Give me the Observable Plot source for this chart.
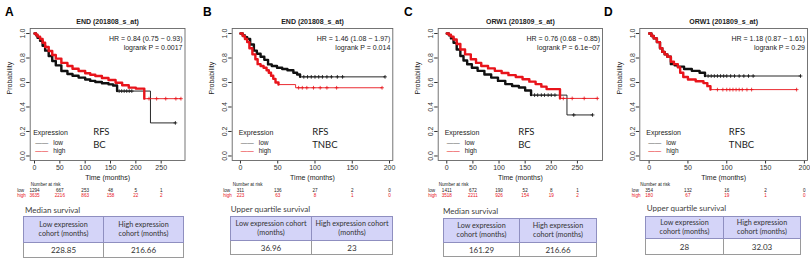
<!DOCTYPE html>
<html><head><meta charset="utf-8">
<script src="https://cdn.jsdelivr.net/npm/d3@7"></script>
<script src="https://cdn.jsdelivr.net/npm/@observablehq/plot@0.6"></script>
<style>
body{margin:0;background:#fff;}
#root{position:relative;width:810px;height:263px;overflow:hidden;background:#fff;font-family:"Liberation Sans",Arial,sans-serif;}
.panel{position:absolute;top:0;}
.letter{position:absolute;font:bold 12px "Liberation Sans",Arial,sans-serif;color:#000;line-height:12px;}
.cap{position:absolute;font-family:Lato,sans-serif;font-size:8px;color:#404040;line-height:8px;white-space:nowrap;}
table.t{position:absolute;border-collapse:collapse;font-family:Lato,sans-serif;color:#333;table-layout:fixed;}
table.t th{background:#d4d4f8;font-weight:normal;font-size:7.2px;line-height:8.4px;border:1px solid #8f8fc0;padding:0 1px;text-align:center;}
table.t td{font-size:8px;text-align:center;border:1px solid #9a9a9a;background:#fff;padding:0;}
</style></head><body><div id="root"></div>
<script>
// ---------- data ----------
const yTicks = [0, 0.2, 0.4, 0.6, 0.8, 1.0];
const xTicksBC = [0, 50, 100, 150, 200, 250];
const xTicksTNBC = [0, 50, 100, 150, 200];

// Panel A: END (201808_s_at), BC
const aLowT  = [0, 3, 6, 11, 16, 21, 28, 35, 42, 53, 65, 75, 87, 100, 110, 120, 133, 146, 155, 163, 228.85, 278];
const aLowS  = [1, 0.985, 0.965, 0.94, 0.9, 0.86, 0.816, 0.775, 0.74, 0.694, 0.67, 0.655, 0.64, 0.625, 0.613, 0.604, 0.594, 0.585, 0.575, 0.53, 0.27, 0.27];
const aHighT = [0, 3, 6, 11, 16, 21, 28, 35, 42, 53, 65, 75, 87, 100, 110, 120, 133, 146, 160, 173, 186, 200, 216.66, 289];
const aHighS = [1, 0.99, 0.975, 0.955, 0.925, 0.89, 0.857, 0.825, 0.795, 0.76, 0.735, 0.712, 0.694, 0.675, 0.663, 0.653, 0.637, 0.62, 0.598, 0.578, 0.558, 0.55, 0.468, 0.468];
const aLowCens  = [167, 172, 177, 182, 187, 192, 278];
const aHighCens = [226, 241, 259, 279, 289];
const riskA_low  = [1294, 667, 253, 48, 5, 1];
const riskA_high = [3635, 2216, 863, 158, 22, 2];

// Panel B: END (201808_s_at), TNBC
const bLowT  = [0, 3, 6, 9, 13, 18, 22, 27, 32, 37, 42, 49, 56, 63, 71, 76, 80, 194];
const bLowS  = [1, 0.985, 0.97, 0.955, 0.91, 0.86, 0.835, 0.81, 0.785, 0.748, 0.735, 0.72, 0.71, 0.70, 0.68, 0.665, 0.646, 0.646];
const bHighT = [0, 3, 6, 9, 12, 16, 20, 23, 27, 31, 35, 38, 41, 44, 47, 51, 74, 190];
const bHighS = [1, 0.98, 0.955, 0.93, 0.88, 0.83, 0.79, 0.75, 0.735, 0.72, 0.70, 0.68, 0.655, 0.63, 0.60, 0.583, 0.557, 0.557];
const bLowCens  = [85, 90, 95, 100, 105, 110, 116, 122, 130, 137, 194];
const bHighCens = [78, 83, 89, 98, 107, 116, 129, 190];
const riskB_low  = [311, 136, 27, 2, 0];
const riskB_high = [223, 63, 8, 1, 0];

// Panel C: ORW1 (201809_s_at), BC
const cLowT  = [0, 4, 8, 13, 19, 26, 32, 39, 48, 59, 72, 85, 98, 112, 125, 138, 150, 161.29, 230, 279];
const cLowS  = [1, 0.985, 0.96, 0.924, 0.87, 0.816, 0.78, 0.749, 0.72, 0.695, 0.665, 0.64, 0.613, 0.587, 0.572, 0.559, 0.535, 0.497, 0.335, 0.335];
const cHighT = [0, 4, 8, 13, 19, 26, 35, 46, 56, 66, 79, 92, 105, 118, 132, 145, 158, 170, 181, 191, 216.66, 288];
const cHighS = [1, 0.99, 0.975, 0.951, 0.915, 0.87, 0.83, 0.79, 0.76, 0.735, 0.715, 0.695, 0.678, 0.66, 0.645, 0.627, 0.607, 0.587, 0.566, 0.546, 0.47, 0.47];
const cLowCens  = [168, 174, 181, 187, 194, 200, 207, 243, 279];
const cHighCens = [223, 240, 263, 288];
const riskC_low  = [1411, 672, 190, 52, 8, 1];
const riskC_high = [3518, 2211, 926, 154, 19, 2];

// Panel D: ORW1 (201809_s_at), TNBC
const dLowT  = [0, 3, 6, 10, 14, 17, 20, 23.5, 28, 33, 37, 45, 55, 65, 72, 195];
const dLowS  = [1, 0.98, 0.96, 0.93, 0.88, 0.85, 0.83, 0.81, 0.75, 0.74, 0.73, 0.71, 0.695, 0.68, 0.653, 0.653];
const dHighT = [0, 3, 6, 10, 14, 17, 20, 23.5, 28, 32, 37, 40, 44, 50, 60, 70, 75, 79, 190];
const dHighS = [1, 0.98, 0.96, 0.93, 0.88, 0.85, 0.83, 0.81, 0.77, 0.75, 0.725, 0.68, 0.645, 0.625, 0.61, 0.595, 0.57, 0.542, 0.542];
const dLowCens  = [76, 80, 84, 88, 92, 96, 100, 105, 110, 116, 122, 128, 134, 195];
const dHighCens = [88, 95, 100, 104, 108, 112, 116, 120, 126, 132, 190];
const riskD_low  = [354, 132, 16, 2, 0];
const riskD_high = [180, 67, 19, 1, 0];

const titles = ["END (201808_s_at)", "END (201808_s_at)", "ORW1 (201809_s_at)", "ORW1 (201809_s_at)"];
const hrTexts = ["HR = 0.84 (0.75 \u2212 0.93)", "HR = 1.46 (1.08 \u2212 1.97)", "HR = 0.76 (0.68 \u2212 0.85)", "HR = 1.18 (0.87 \u2212 1.61)"];
const pTexts = ["logrank P = 0.0017", "logrank P = 0.014", "logrank P = 6.1e\u221207", "logrank P = 0.29"];
const cohorts = ["BC", "TNBC", "BC", "TNBC"];
const letters = ["A", "B", "C", "D"];
const tableCaptions = ["Median survival", "Upper quartile survival", "Median survival", "Upper quartile survival"];
const lowHeaders = ["Low expression<br>cohort (months)", "Low expression cohort<br>(months)", "Low expression<br>cohort (months)", "Low expression<br>cohort (months)"];
const highHeaders = ["High expression<br>cohort (months)", "High expression cohort<br>(months)", "High expression<br>cohort (months)", "High expression<br>cohort (months)"];
const lowValues = ["228.85", "36.96", "161.29", "28"];
const highValues = ["216.66", "23", "216.66", "32.03"];

// ---------- layout (pixels) ----------
const layout = [
  {left: 0,   w: 200, ml: 29.7, mr: 15.5, xd: [-8.5, 297],  rowDx: -13, legDx: 3,  rfsDx: 63, letterX: 5,
   tbl: {x: 23, y: 216, w: 160, hh: 26, vh: 15, c1: 80}, cap: {x: 25, y: 205.5}},
  {left: 200, w: 205, ml: 31.7, mr: 12.7, xd: [-11.1, 204.4], rowDx: -9, legDx: 6.5, rfsDx: 80, letterX: 203,
   tbl: {x: 230, y: 216, w: 162, hh: 24, vh: 14, c1: 81}, cap: {x: 230.7, y: 205.3}},
  {left: 405, w: 200, ml: 32.7, mr: 3, xd: [-16.4, 298],  rowDx: -10, legDx: 6.5, rfsDx: 80, letterX: 404,
   tbl: {x: 443, y: 218, w: 153, hh: 24, vh: 14, c1: 76}, cap: {x: 443, y: 206.7}},
  {left: 605, w: 205, ml: 34.3, mr: 3, xd: [-12, 204],   rowDx: -8, legDx: 6.5, rfsDx: 89, letterX: 604,
   tbl: {x: 645, y: 216, w: 155, hh: 22, vh: 16, c1: 78}, cap: {x: 646.7, y: 204}}
];

const curves = [
  {lowT: aLowT, lowS: aLowS, highT: aHighT, highS: aHighS, lowDense: 163, highDense: 216.66, lowC: aLowCens, highC: aHighCens, xt: xTicksBC, rl: riskA_low, rh: riskA_high},
  {lowT: bLowT, lowS: bLowS, highT: bHighT, highS: bHighS, lowDense: 80, highDense: 51, lowC: bLowCens, highC: bHighCens, xt: xTicksTNBC, rl: riskB_low, rh: riskB_high},
  {lowT: cLowT, lowS: cLowS, highT: cHighT, highS: cHighS, lowDense: 161.29, highDense: 216.66, lowC: cLowCens, highC: cHighCens, xt: xTicksBC, rl: riskC_low, rh: riskC_high},
  {lowT: dLowT, lowS: dLowS, highT: dHighT, highS: dHighS, lowDense: 72, highDense: 79, lowC: dLowCens, highC: dHighCens, xt: xTicksTNBC, rl: riskD_low, rh: riskD_high}
];

const BLACK = "#111", RED = "#e8141b";

function survAt(T, S, t) { let s = S[0]; for (let i = 0; i < T.length; i++) if (T[i] <= t) s = S[i]; return s; }

function makePanel(i) {
  const L = layout[i], C = curves[i];
  const low = C.lowT.map((t, j) => ({t, s: C.lowS[j]}));
  const high = C.highT.map((t, j) => ({t, s: C.highS[j]}));
  const lowC = C.lowC.map(t => ({t, s: survAt(C.lowT, C.lowS, t)}));
  const highC = C.highC.map(t => ({t, s: survAt(C.highT, C.highS, t)}));
  const fs = 7, lfs = 6.5, rfs = 4.6;
  return Plot.plot({
    width: L.w, height: 205,
    marginLeft: L.ml, marginRight: L.mr, marginTop: 28, marginBottom: 45,
    style: {background: "transparent", overflow: "visible", fontFamily: "'Liberation Sans', Arial, sans-serif"},
    x: {domain: L.xd},
    y: {domain: [-0.037, 1.041]},
    marks: [
      Plot.axisX({ticks: C.xt, tickSize: 3.5, tickPadding: 1.5, fontSize: fs, label: null, color: "#333"}),
      Plot.axisY({ticks: yTicks, tickSize: 3.5, tickPadding: 1.5, tickFormat: d3.format(".1f"), tickRotate: -90, fontSize: fs, label: null, color: "#333"}),
      Plot.text(["Probability"], {frameAnchor: "left", dx: -20, rotate: -90, fontSize: fs, fill: "#222"}),
      Plot.text(["Time (months)"], {frameAnchor: "bottom", dy: 19.5, fontSize: fs, fill: "#222"}),
      Plot.text([titles[i]], {frameAnchor: "top", dy: -9, fontSize: fs, fontWeight: "bold", fill: "#222"}),
      Plot.text([hrTexts[i]], {frameAnchor: "top-right", dx: -2.5, dy: 7.5, textAnchor: "end", fontSize: fs, fill: "#222"}),
      Plot.text([pTexts[i]], {frameAnchor: "top-right", dx: -2.5, dy: 16.3, textAnchor: "end", fontSize: fs, fill: "#222"}),
      // curves
      Plot.line(low, {x: "t", y: "s", curve: "step-after", stroke: BLACK, strokeWidth: 0.9}),
      Plot.line(high, {x: "t", y: "s", curve: "step-after", stroke: RED, strokeWidth: 0.9}),
      Plot.line(low.filter(d => d.t <= C.lowDense), {x: "t", y: "s", curve: "step-after", stroke: BLACK, strokeWidth: 2.4}),
      Plot.line(high.filter(d => d.t <= C.highDense), {x: "t", y: "s", curve: "step-after", stroke: RED, strokeWidth: 2.4}),
      Plot.dot(lowC, {x: "t", y: "s", symbol: "plus", r: 1.3, stroke: BLACK, strokeWidth: 0.8}),
      Plot.dot(highC, {x: "t", y: "s", symbol: "plus", r: 1.3, stroke: RED, strokeWidth: 0.8}),
      Plot.frame({stroke: "#666", strokeWidth: 0.9}),
      // legend
      Plot.text(["Expression"], {frameAnchor: "bottom-left", dx: L.legDx, dy: -25.5, textAnchor: "start", fontSize: fs, fill: "#222"}),
      Plot.text(["\u2014\u2014"], {frameAnchor: "bottom-left", dx: L.legDx + 2, dy: -16, textAnchor: "start", fontSize: lfs, fill: "#666"}),
      Plot.text(["\u2014\u2014"], {frameAnchor: "bottom-left", dx: L.legDx + 2, dy: -8, textAnchor: "start", fontSize: lfs, fill: RED}),
      Plot.text(["low"], {frameAnchor: "bottom-left", dx: L.legDx + 20, dy: -16, textAnchor: "start", fontSize: lfs, fill: "#222"}),
      Plot.text(["high"], {frameAnchor: "bottom-left", dx: L.legDx + 20, dy: -8, textAnchor: "start", fontSize: lfs, fill: "#222"}),
      Plot.text(["RFS"], {frameAnchor: "bottom-left", dx: L.rfsDx, dy: -25.7, textAnchor: "start", fontSize: 9.5, fontFamily: "Lato, sans-serif", fill: "#222"}),
      Plot.text([cohorts[i]], {frameAnchor: "bottom-left", dx: L.rfsDx, dy: -12.3, textAnchor: "start", fontSize: 9.5, fontFamily: "Lato, sans-serif", fill: "#222"}),
      // number at risk
      Plot.text(["Number at risk"], {frameAnchor: "bottom-left", dx: 0.5, dy: 25.5, textAnchor: "start", fontSize: rfs, fill: "#222"}),
      Plot.text(["low"], {frameAnchor: "bottom-left", dx: L.rowDx, dy: 31, fontSize: rfs, fill: "#222"}),
      Plot.text(["high"], {frameAnchor: "bottom-left", dx: L.rowDx, dy: 36, fontSize: rfs, fill: RED}),
      Plot.text(C.xt, {x: d => d, text: (d, j) => String(C.rl[j]), frameAnchor: "bottom", dy: 31, fontSize: rfs, fill: "#222"}),
      Plot.text(C.xt, {x: d => d, text: (d, j) => String(C.rh[j]), frameAnchor: "bottom", dy: 36, fontSize: rfs, fill: RED})
    ]
  });
}

const root = document.getElementById("root");
for (let i = 0; i < 4; i++) {
  const L = layout[i];
  const svg = makePanel(i);
  const wrap = document.createElement("div");
  wrap.className = "panel";
  wrap.style.left = L.left + "px";
  wrap.appendChild(svg);
  root.appendChild(wrap);

  const letter = document.createElement("div");
  letter.className = "letter";
  letter.style.left = L.letterX + "px";
  letter.style.top = "6px";
  letter.textContent = letters[i];
  root.appendChild(letter);

  const cap = document.createElement("div");
  cap.className = "cap";
  cap.style.left = L.cap.x + "px";
  cap.style.top = L.cap.y + "px";
  cap.textContent = tableCaptions[i];
  root.appendChild(cap);

  const T = L.tbl;
  const tbl = document.createElement("table");
  tbl.className = "t";
  tbl.style.left = T.x + "px";
  tbl.style.top = T.y + "px";
  tbl.style.width = T.w + "px";
  tbl.innerHTML =
    `<colgroup><col style="width:${T.c1}px"><col style="width:${T.w - T.c1}px"></colgroup>` +
    `<tr style="height:${T.hh}px"><th>${lowHeaders[i]}</th><th>${highHeaders[i]}</th></tr>` +
    `<tr style="height:${T.vh}px"><td>${lowValues[i]}</td><td>${highValues[i]}</td></tr>`;
  root.appendChild(tbl);
}
</script></body></html>
